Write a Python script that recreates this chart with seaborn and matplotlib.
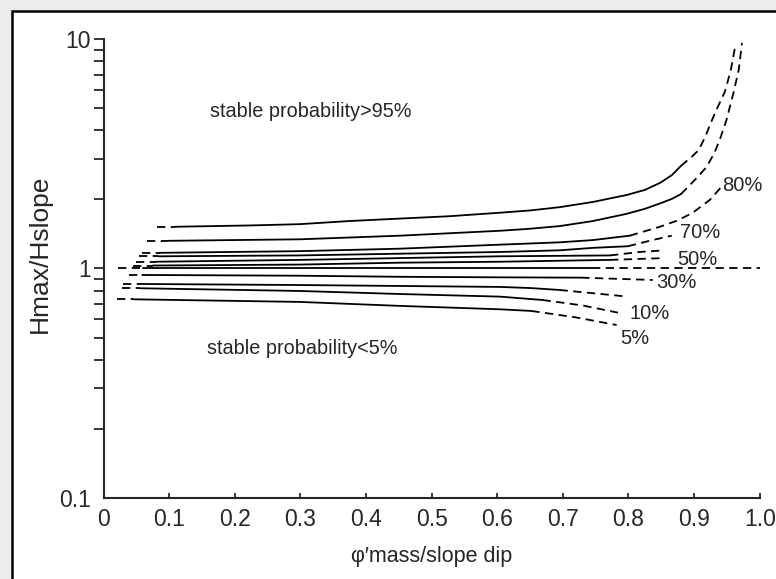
import numpy as np
import pandas as pd
import seaborn as sns
import matplotlib.pyplot as plt
from matplotlib.patches import Rectangle
from matplotlib.ticker import LogLocator, NullFormatter

# stable probability of each curve, top to bottom
probs = ['95%', '90%', '80%', '70%', '60%', '50%', '40%', '30%', '20%', '10%', '5%']

# x where the short dashed lead-in starts (left end)
lead_x = [0.081, 0.066, 0.058, 0.054, 0.050, 0.045, 0.022, 0.039, 0.030, 0.028, 0.020]

# solid part of the curves
solid_x = [
    [0.109, 0.223, 0.299, 0.375, 0.452, 0.528, 0.604, 0.650, 0.695, 0.746, 0.797, 0.825, 0.848, 0.866, 0.880],
    [0.097, 0.299, 0.452, 0.604, 0.650, 0.695, 0.746, 0.797, 0.825, 0.848, 0.866, 0.880],
    [0.086, 0.299, 0.452, 0.604, 0.695, 0.746, 0.802],
    [0.083, 0.299, 0.452, 0.604, 0.695, 0.746, 0.799],
    [0.080, 0.299, 0.452, 0.604, 0.772],
    [0.075, 0.299, 0.452, 0.604, 0.772],
    [0.060, 0.299, 0.452, 0.604, 0.744],
    [0.059, 0.299, 0.452, 0.604, 0.728],
    [0.057, 0.299, 0.452, 0.604, 0.650, 0.695],
    [0.056, 0.299, 0.452, 0.604, 0.669],
    [0.045, 0.299, 0.452, 0.604, 0.652],
]
solid_y = [
    [1.52, 1.54, 1.56, 1.61, 1.65, 1.69, 1.75, 1.79, 1.85, 1.95, 2.09, 2.20, 2.36, 2.55, 2.80],
    [1.32, 1.34, 1.39, 1.46, 1.49, 1.53, 1.61, 1.73, 1.82, 1.92, 2.01, 2.11],
    [1.17, 1.19, 1.22, 1.27, 1.30, 1.33, 1.39],
    [1.13, 1.14, 1.16, 1.18, 1.20, 1.23, 1.25],
    [1.07, 1.09, 1.11, 1.13, 1.14],
    [1.03, 1.04, 1.06, 1.07, 1.09],
    [1.00, 1.00, 1.00, 1.00, 1.00],
    [0.937, 0.930, 0.920, 0.915, 0.912],
    [0.856, 0.847, 0.839, 0.831, 0.822, 0.806],
    [0.820, 0.798, 0.774, 0.754, 0.729],
    [0.734, 0.715, 0.687, 0.664, 0.653],
]

# dashed extrapolation at the right
tail_x = [
    [0.880, 0.896, 0.907, 0.917, 0.926, 0.936, 0.947, 0.956, 0.963],
    [0.880, 0.889, 0.904, 0.919, 0.931, 0.940, 0.949, 0.960, 0.968, 0.973],
    [0.802, 0.848, 0.875, 0.898, 0.924, 0.943],
    [0.799, 0.832, 0.866],
    [0.772, 0.817, 0.855],
    [0.772, 0.855],
    [0.744, 1.000],
    [0.728, 0.837],
    [0.695, 0.799],
    [0.669, 0.730, 0.784],
    [0.652, 0.720, 0.782],
]
tail_y = [
    [2.80, 3.06, 3.28, 3.75, 4.35, 5.05, 5.90, 7.33, 9.42],
    [2.11, 2.24, 2.48, 2.77, 3.19, 3.70, 4.40, 5.82, 7.33, 9.61],
    [1.39, 1.52, 1.62, 1.75, 1.99, 2.29],
    [1.25, 1.32, 1.39],
    [1.14, 1.18, 1.20],
    [1.09, 1.11],
    [1.00, 1.00],
    [0.912, 0.891],
    [0.806, 0.754],
    [0.729, 0.690, 0.642],
    [0.653, 0.612, 0.567],
]

# curve labels
label_text = ['80%', '70%', '50%', '30%', '10%', '5%']
label_x = [0.942, 0.879, 0.874, 0.843, 0.802, 0.787]
label_y = [2.31, 1.43, 1.09, 0.867, 0.638, 0.496]

x_ticks = [0, 0.1, 0.2, 0.3, 0.4, 0.5, 0.6, 0.7, 0.8, 0.9, 1.0]
x_tick_labels = ['0', '0.1', '0.2', '0.3', '0.4', '0.5', '0.6', '0.7', '0.8', '0.9', '1.0']
y_ticks = [0.1, 1, 10]
y_tick_labels = ['0.1', '1', '10']

sns.set_style('ticks')
plt.rcParams['font.family'] = ['Liberation Sans', 'DejaVu Sans']

fig = plt.figure(figsize=(7.76, 5.79), dpi=100)
fig.patch.set_facecolor('#ececec')
# white page with black frame (cut off at right and bottom)
fig.patches.append(Rectangle((12 / 776, -0.1), 1.2, 1.1 - 11 / 579,
                             transform=fig.transFigure, facecolor='white',
                             edgecolor='black', linewidth=1.8, zorder=-10))

ax = fig.add_axes([0.1334, 0.140, 0.8456, 0.7926])
ax.set_facecolor('none')

dash = (0, (4.6, 3.0))
lw = 1.3
for i, p in enumerate(probs):
    lead = pd.DataFrame({'x': [lead_x[i], solid_x[i][0]], 'y': [solid_y[i][0], solid_y[i][0]]})
    body = pd.DataFrame({'x': solid_x[i], 'y': solid_y[i]})
    tail = pd.DataFrame({'x': tail_x[i], 'y': tail_y[i]})
    sns.lineplot(data=lead, x='x', y='y', ax=ax, color='black', lw=lw, linestyle=dash, sort=False, estimator=None)
    sns.lineplot(data=body, x='x', y='y', ax=ax, color='black', lw=lw, sort=False, estimator=None)
    sns.lineplot(data=tail, x='x', y='y', ax=ax, color='black', lw=lw, linestyle=dash, sort=False, estimator=None)

for t, x, y in zip(label_text, label_x, label_y):
    ax.text(x, y, t, fontsize=14.5, ha='left', va='center')

ax.text(0.162, 4.81, 'stable probability>95%', fontsize=14.3, ha='left', va='center')
ax.text(0.158, 0.446, 'stable probability<5%', fontsize=14.3, ha='left', va='center')

ax.set_yscale('log')
ax.set_xlim(0, 1)
ax.set_ylim(0.1, 10)
ax.set_xticks(x_ticks)
ax.set_xticklabels(x_tick_labels)
ax.set_yticks(y_ticks)
ax.set_yticklabels(y_tick_labels)
ax.yaxis.set_minor_locator(LogLocator(base=10, subs=np.arange(2, 10)))
ax.yaxis.set_minor_formatter(NullFormatter())
ax.yaxis.get_major_ticks()[0].tick1line.set_visible(False)

ax.tick_params(axis='x', direction='in', length=3.5, width=1.3, labelsize=16.5, pad=7)
ax.tick_params(axis='y', which='both', direction='out', length=7, width=1.3, labelsize=16.5, pad=2)

for s in ['top', 'right']:
    ax.spines[s].set_visible(False)
for s in ['left', 'bottom']:
    ax.spines[s].set_linewidth(1.5)

ax.set_xlabel('\u03c6\u2032mass/slope dip', fontsize=15.5)
ax.xaxis.set_label_coords(0.5, -0.104)
ax.set_ylabel('Hmax/Hslope', fontsize=19)
ax.yaxis.set_label_coords(-0.079, 0.532)

fig.savefig('out.png', dpi=100, facecolor=fig.get_facecolor())
